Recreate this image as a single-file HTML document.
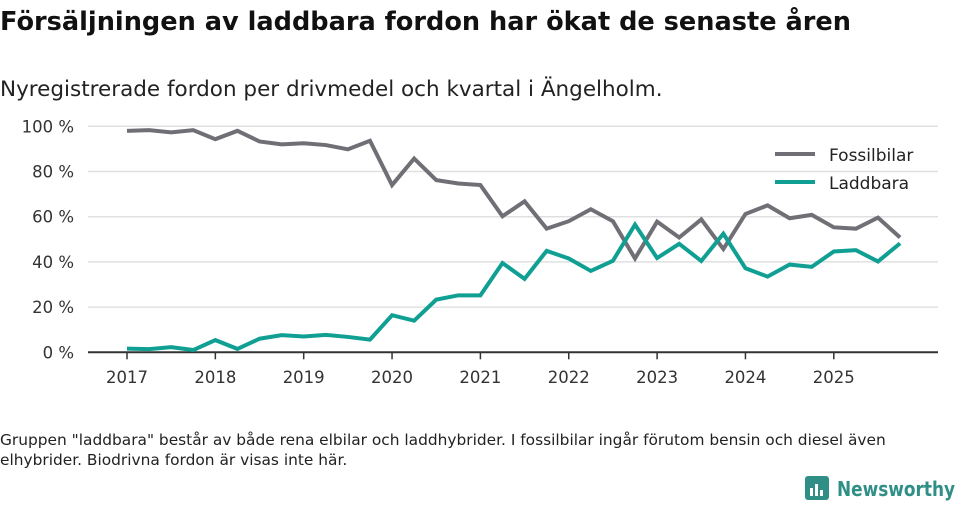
<!DOCTYPE html>
<html><head><meta charset="utf-8"><style>
body{margin:0;width:960px;height:505px;background:#fff;font-family:"DejaVu Sans","Liberation Sans",sans-serif;overflow:hidden}
</style></head><body>
<svg width="960" height="505" id="svg">
<text x="0" y="30" font-size="25.6" font-weight="bold" fill="#111">Försäljningen av laddbara fordon har ökat de senaste åren</text>
<text x="0" y="96" font-size="21.5" fill="#222">Nyregistrerade fordon per drivmedel och kvartal i Ängelholm.</text>
<g id="grid"></g><g id="lines"></g>
<g>
<line x1="775" y1="154" x2="815" y2="154" stroke="#706f75" stroke-width="4"/>
<text x="829" y="161" font-size="17" fill="#222">Fossilbilar</text>
<line x1="775" y1="182" x2="815" y2="182" stroke="#109f93" stroke-width="4"/>
<text x="829" y="189" font-size="17" fill="#222">Laddbara</text>
</g>
<text x="0" y="445" font-size="15.4" fill="#222">Gruppen "laddbara" består av både rena elbilar och laddhybrider. I fossilbilar ingår förutom bensin och diesel även</text>
<text x="0" y="465" font-size="15.4" fill="#222">elhybrider. Biodrivna fordon är visas inte här.</text>
<g>
<rect x="805" y="476" width="24" height="24" rx="3" fill="#2f8f86"/>
<rect x="810" y="488" width="3" height="8" fill="#fff"/><rect x="815" y="484" width="3" height="12" fill="#fff"/><rect x="820" y="490" width="3" height="6" fill="#fff"/>
<text x="837" y="496" font-size="20" font-weight="bold" fill="#2f8f86" textLength="118" lengthAdjust="spacingAndGlyphs">Newsworthy</text>
</g>
</svg>
<script>
const years=["2017","2018","2019","2020","2021","2022","2023","2024","2025"];
const yTicks=[0,20,40,60,80,100];
const fossil=[98,98.3,97.3,98.3,94.3,98,93.3,92,92.5,91.7,89.8,93.6,74,85.7,76.2,74.7,74,60.2,66.8,54.7,58,63.3,58,41.5,57.8,50.8,58.8,45.7,61.2,65,59.3,60.8,55.3,54.7,59.6,50.8];
const laddbara=[1.6,1.4,2.3,1,5.4,1.5,6,7.6,7,7.7,6.8,5.6,16.4,14,23.3,25.2,25.2,39.5,32.5,44.9,41.5,36,40.5,56.5,41.7,48,40.4,52.5,37.2,33.5,38.8,37.8,44.6,45.2,40.2,48.2];
const NS="http://www.w3.org/2000/svg";
const x0=127,yearW=88.35,yZero=352.3,yPer=2.26;
const X=i=>x0+i*yearW/4, Y=v=>yZero-v*yPer;
const grid=document.getElementById('grid'),lines=document.getElementById('lines');
function mk(t,a,p){const e=document.createElementNS(NS,t);for(const k in a)e.setAttribute(k,a[k]);p.appendChild(e);return e;}
yTicks.forEach(v=>{
 const l=mk('line',{x1:88,x2:938,y1:Y(v),y2:Y(v),stroke:v?'#e0e0e0':'#333','stroke-width':v?1.5:2},grid);
 
 
 const t=mk('text',{x:74,y:Y(v)+6,'text-anchor':'end','font-size':16.5,fill:'#333'},grid);
 t.textContent=v+' %';
 
 
});
years.forEach((y,i)=>{
 const xx=x0+i*yearW;
 const tk=mk('line',{x1:xx,x2:xx,y1:yZero,y2:yZero+7,stroke:'#333','stroke-width':1.5},grid);
 
 
 const t=mk('text',{x:xx,y:383,'text-anchor':'middle','font-size':16.5,fill:'#333'},grid);
 t.textContent=y;
 
 
});
[[fossil,'#706f75','fossil-line'],[laddbara,'#109f93','laddbara-line']].forEach(([d,c,n])=>{
 const p=mk('polyline',{points:d.map((v,i)=>X(i)+','+Y(v)).join(' '),fill:'none',stroke:c,'stroke-width':4,'stroke-linejoin':'miter'},lines);
 
 
});
</script>
</body></html>
